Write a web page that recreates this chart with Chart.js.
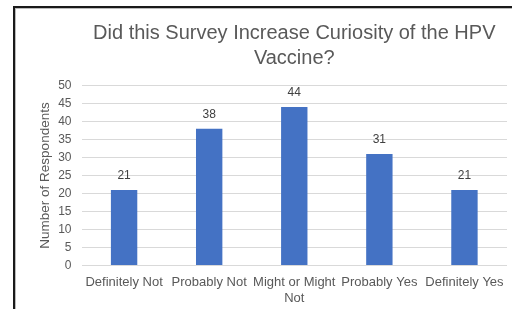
<!DOCTYPE html>
<html>
<head>
<meta charset="utf-8">
<script src="https://cdn.jsdelivr.net/npm/chart.js@4/dist/chart.umd.min.js"></script>
<style>
  html, body { margin: 0; padding: 0; background: #fff; }
  #frame {
    position: absolute; left: 13px; top: 6px;
    width: 499px; height: 303px;
    border-left: 2px solid #1a1a1a; border-top: 2px solid #1a1a1a;
    box-sizing: border-box;
  }
  #wrap { position: absolute; left: 0; top: 0; width: 497px; height: 301px; border-left: 1px solid #bbb; border-top: 1px solid #bbb; box-sizing: border-box; }
</style>
</head>
<body>
<div id="frame"><div id="wrap"><canvas id="hpvChart"></canvas></div></div>
<script>
document.addEventListener("DOMContentLoaded", function () {

const categories = ['Definitely Not', 'Probably Not', ['Might or Might', 'Not'], 'Probably Yes', 'Definitely Yes'];
const respondents = [21, 38, 44, 31, 21];
const yTicks = [0, 5, 10, 15, 20, 25, 30, 35, 40, 45, 50];

const fontFam = '"Liberation Sans", Arial, Helvetica, sans-serif';
const textGrey = '#595959';

// angka di atas batang
const valueLabels = {
  id: 'valueLabels',
  afterDatasetsDraw(chart) {
    const ctx = chart.ctx;
    const meta = chart.getDatasetMeta(0);
    ctx.save();
    ctx.font = '12px ' + fontFam;
    ctx.fillStyle = '#404040';
    ctx.textAlign = 'center';
    ctx.textBaseline = 'middle';
    meta.data.forEach((bar, i) => {
      ctx.fillText(respondents[i], bar.x, bar.y - 14);
    });
    ctx.restore();
  }
};

const ctx = document.getElementById('hpvChart').getContext('2d');

new Chart(ctx, {
  type: 'bar',
  data: {
    labels: categories,
    datasets: [{
      label: 'Number of Respondents',
      data: respondents,
      backgroundColor: '#4472C4',
      categoryPercentage: 1.0,
      barPercentage: 0.31
    }]
  },
  options: {
    responsive: true,
    maintainAspectRatio: false,
    animation: false,
    layout: { padding: { left: 21, right: 5, top: 0, bottom: 1 } },
    scales: {
      x: {
        grid: { display: false },
        border: { display: false },
        ticks: {
          color: textGrey,
          font: { family: fontFam, size: 13, lineHeight: 1.25 },
          maxRotation: 0,
          autoSkip: false,
          padding: 1
        }
      },
      y: {
        min: 0,
        max: 50,
        afterBuildTicks(scale) {
          scale.ticks = yTicks.map(v => ({ value: v }));
        },
        grid: { color: '#d9d9d9', drawTicks: false },
        border: { display: false },
        ticks: {
          color: textGrey,
          font: { family: fontFam, size: 12 },
          padding: 10
        },
        title: {
          display: true,
          text: 'Number of Respondents',
          color: textGrey,
          font: { family: fontFam, size: 13.5 },
          padding: { top: 0, bottom: -5 }
        }
      }
    },
    plugins: {
      legend: { display: false },
      tooltip: { enabled: false },
      title: {
        display: true,
        fullSize: false,
        text: ['Did this Survey Increase Curiosity of the HPV', 'Vaccine?'],
        color: textGrey,
        font: { family: fontFam, size: 20, weight: 'normal', lineHeight: 1.25 },
        padding: { top: 12, bottom: 14.5 }
      }
    }
  },
  plugins: [valueLabels]
});

});
</script>
</body>
</html>
